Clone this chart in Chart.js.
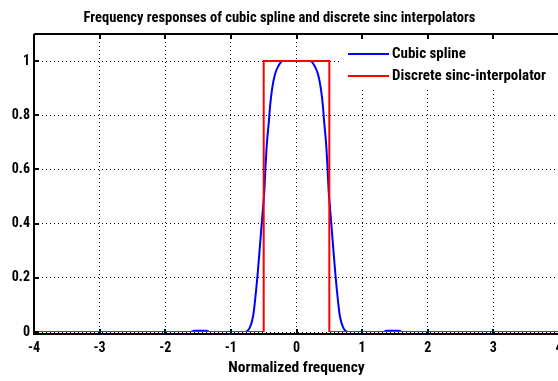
<!DOCTYPE html>
<html>
<head>
<meta charset="utf-8">
<script src="https://cdn.jsdelivr.net/npm/chart.js@4.4.0/dist/chart.umd.min.js"></script>
<style>
  html, body { margin: 0; padding: 0; background: #fff; overflow: hidden; }
  #wrap { width: 566px; height: 381px; }
</style>
</head>
<body>
<div id="wrap"><canvas id="chart"></canvas></div>
<script>
const FONT = "'Roboto Condensed', Roboto, sans-serif";

// cubic spline frequency response
const splineX = [-4, -2, -1.62, -1.56, -1.37, -1.32, -1, -0.79, -0.71, -0.66, -0.63, -0.59, -0.55, -0.51,
  -0.49, -0.47, -0.45, -0.42, -0.4, -0.37, -0.33, -0.28, -0.21, 0,
  0.21, 0.28, 0.33, 0.37, 0.4, 0.42, 0.45, 0.47, 0.49,
  0.51, 0.55, 0.59, 0.63, 0.66, 0.71, 0.79, 1, 1.32, 1.37, 1.56, 1.62, 2, 4];
const splineY = [0, 0, 0, 0.005, 0.005, 0, 0, 0, 0.017, 0.06, 0.12, 0.22, 0.34, 0.46,
  0.52, 0.62, 0.7, 0.78, 0.84, 0.9, 0.95, 0.98, 1, 1,
  1, 0.98, 0.95, 0.9, 0.84, 0.78, 0.7, 0.62, 0.52,
  0.46, 0.34, 0.22, 0.12, 0.06, 0.017, 0, 0, 0, 0.005, 0.005, 0, 0, 0];

// discrete sinc interpolator (ideal low-pass)
const sincX = [-4, -0.5, -0.5, 0.5, 0.5, 4];
const sincY = [0, 0, 1, 1, 0, 0];

const xTicks = [-4, -3, -2, -1, 0, 1, 2, 3, 4];
const yTicks = [0, 0.2, 0.4, 0.6, 0.8, 1];
const seriesNames = ['Cubic spline', 'Discrete sinc-interpolator'];
const seriesColors = ['#0000ff', '#ff0000'];

function toPoints(xs, ys) {
  return xs.map((x, i) => ({ x: x, y: ys[i] }));
}

// matlab style box: top border, inward ticks, legend inside the axes
const matlabAxes = {
  id: 'matlabAxes',
  afterDraw(chart) {
    const ctx = chart.ctx;
    const area = chart.chartArea;
    const xs = chart.scales.x;
    const ys = chart.scales.y;
    ctx.save();
    ctx.strokeStyle = '#000';
    ctx.lineWidth = 2;
    ctx.beginPath();
    // box
    ctx.moveTo(area.left, area.top);
    ctx.lineTo(area.right, area.top);
    ctx.moveTo(area.left, area.bottom + 2);
    ctx.lineTo(area.right, area.bottom + 2);
    ctx.moveTo(area.left, area.top);
    ctx.lineTo(area.left, area.bottom + 3);
    // ticks
    xTicks.forEach(v => {
      const px = Math.round(xs.getPixelForValue(v));
      ctx.moveTo(px, area.bottom + 2);
      ctx.lineTo(px, area.bottom - 3);
      ctx.moveTo(px, area.top);
      ctx.lineTo(px, area.top + 5);
    });
    yTicks.forEach(v => {
      const py = Math.round(ys.getPixelForValue(v));
      ctx.moveTo(area.left, py);
      ctx.lineTo(area.left + 5, py);
    });
    ctx.stroke();

    // legend
    ctx.fillStyle = '#fff';
    ctx.fillRect(342, 40, 213, 50);
    ctx.font = 'bold 15px ' + FONT;
    ctx.textBaseline = 'middle';
    ctx.textAlign = 'left';
    seriesNames.forEach((name, i) => {
      const y = 54 + i * 22;
      ctx.strokeStyle = seriesColors[i];
      ctx.lineWidth = 2;
      ctx.beginPath();
      ctx.moveTo(348, y);
      ctx.lineTo(389, y);
      ctx.stroke();
      ctx.fillStyle = '#000';
      ctx.fillText(name, 392, y);
    });
    ctx.restore();
  }
};

const gridCommon = {
  color: '#000',
  lineWidth: 1,
  drawTicks: false
};

new Chart(document.getElementById('chart'), {
  type: 'scatter',
  data: {
    datasets: [
      {
        label: seriesNames[0],
        data: toPoints(splineX, splineY),
        showLine: true,
        borderColor: seriesColors[0],
        borderWidth: 2,
        pointRadius: 0,
        cubicInterpolationMode: 'monotone',
        order: 2
      },
      {
        label: seriesNames[1],
        data: toPoints(sincX, sincY),
        showLine: true,
        borderColor: seriesColors[1],
        borderWidth: 2,
        pointRadius: 0,
        tension: 0,
        order: 1
      }
    ]
  },
  plugins: [matlabAxes],
  options: {
    responsive: true,
    maintainAspectRatio: false,
    animation: false,
    layout: { padding: { left: 0, right: 7, top: 0, bottom: 0 } },
    plugins: {
      legend: { display: false },
      tooltip: { enabled: false },
      title: {
        display: true,
        text: 'Frequency responses of cubic spline and discrete sinc interpolators',
        color: '#000',
        font: { family: FONT, size: 14.5, weight: 'bold', lineHeight: 1.2 },
        padding: { top: 9.5, bottom: 7.1 }
      }
    },
    scales: {
      x: {
        type: 'linear',
        min: -4,
        max: 4,
        afterFit: s => { s.height = 49; s.paddingLeft = 0; s.paddingRight = 0; },
        afterBuildTicks: s => { s.ticks = xTicks.map(v => ({ value: v })); },
        ticks: { color: '#000', padding: 8, font: { family: FONT, size: 14, weight: 'bold' } },
        grid: gridCommon,
        border: { display: false, dash: [1, 3] },
        title: {
          display: true,
          text: 'Normalized frequency',
          color: '#000',
          font: { family: FONT, size: 15.5, weight: 'bold' },
          padding: { top: 0, bottom: 4 }
        }
      },
      y: {
        min: 0,
        max: 1.1,
        afterFit: s => { s.width = 34; },
        afterBuildTicks: s => { s.ticks = yTicks.map(v => ({ value: v })); },
        ticks: {
          color: '#000',
          padding: 4,
          font: { family: FONT, size: 14, weight: 'bold' },
          callback: v => String(v)
        },
        grid: gridCommon,
        border: { display: false, dash: [1, 3] }
      }
    }
  }
});
</script>
</body>
</html>
